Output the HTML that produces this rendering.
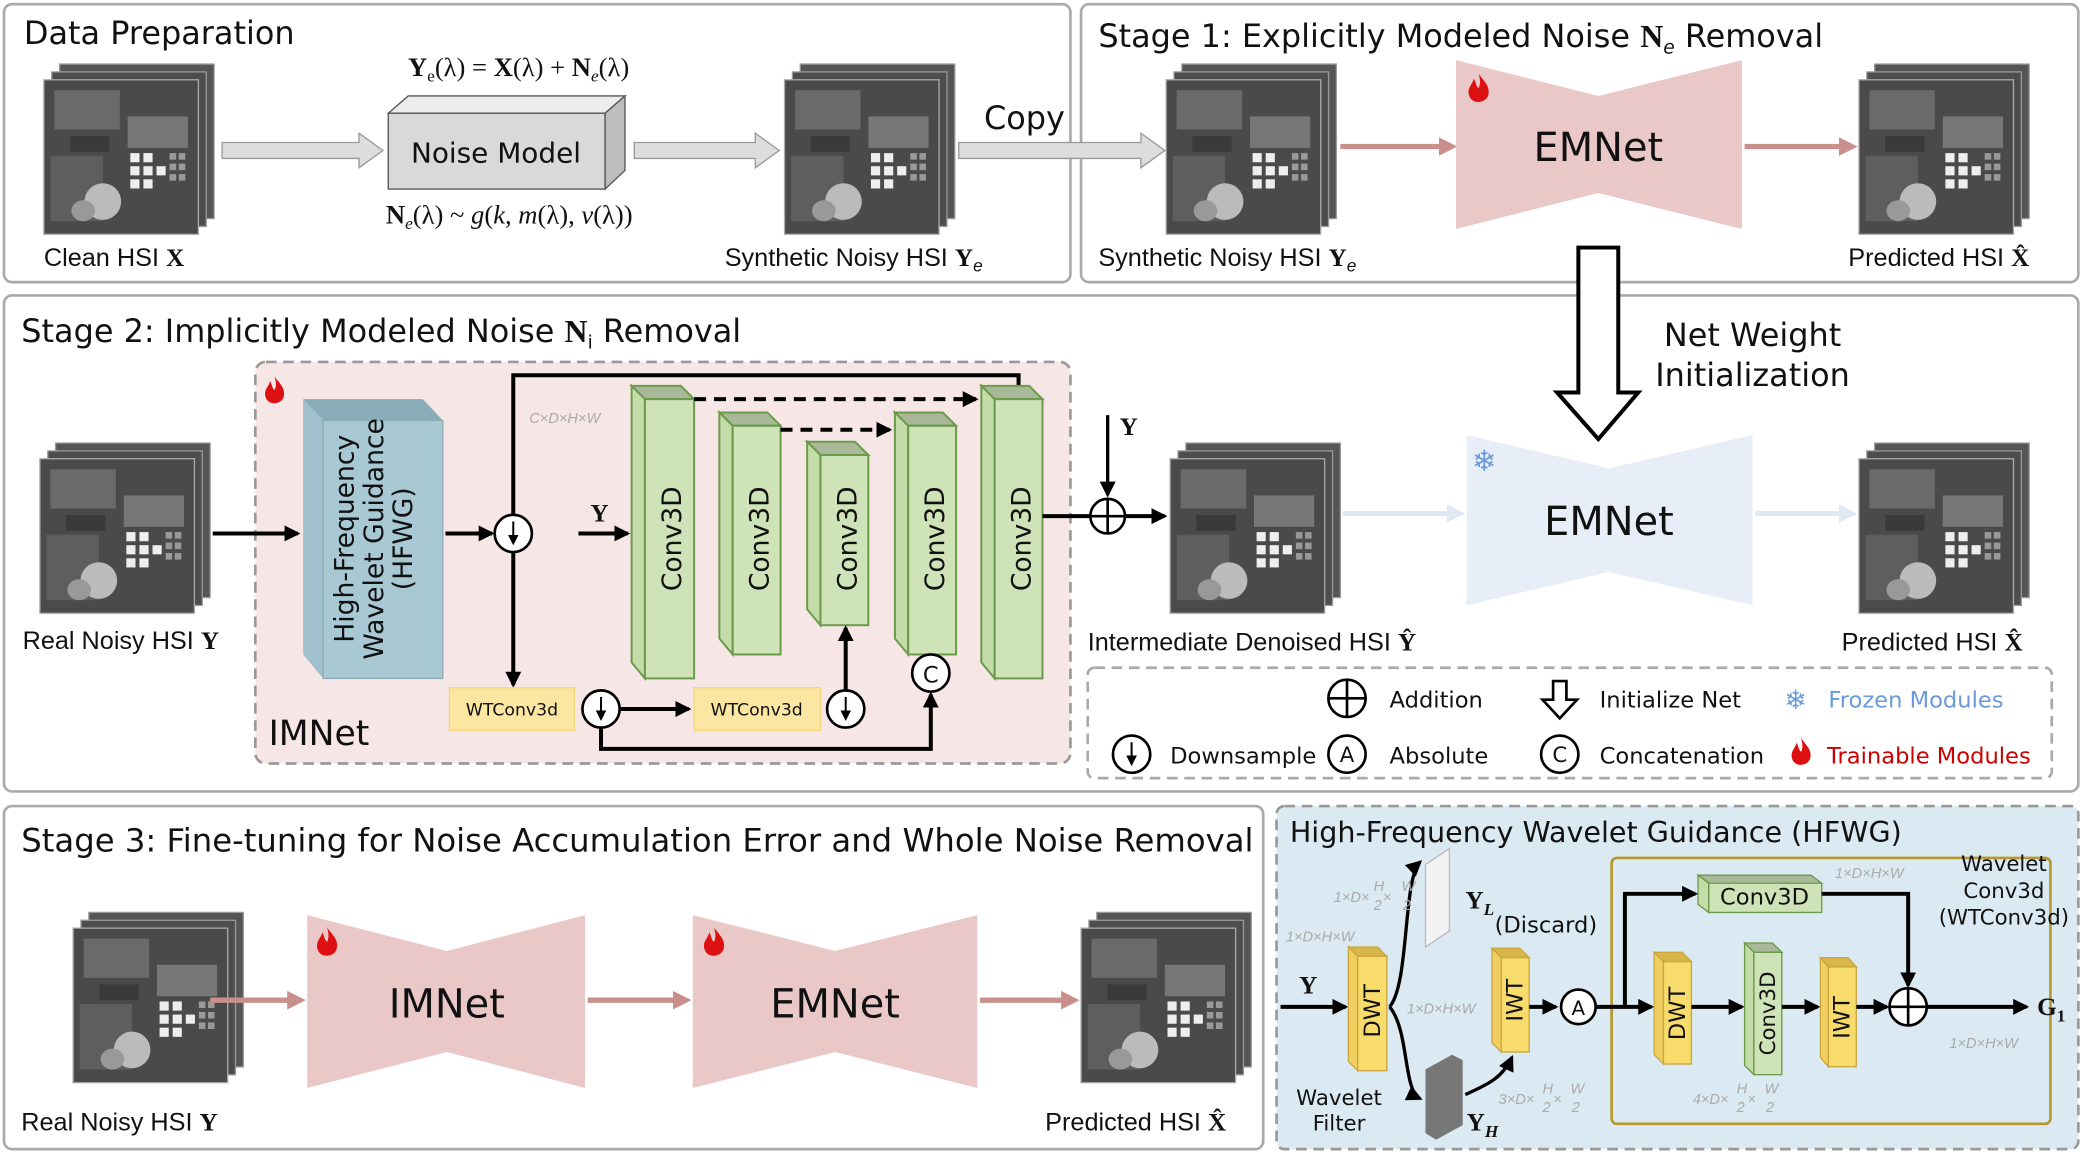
<!DOCTYPE html>
<html><head><meta charset="utf-8"><style>
html,body{margin:0;padding:0;background:#fff;width:2085px;height:1156px;overflow:hidden}
svg{display:block}
text{font-family:"DejaVu Sans","Liberation Sans",sans-serif;fill:#111}
.s{font-family:"Liberation Serif",serif;font-weight:bold}
.l{font-family:"Liberation Sans",sans-serif}
.g{fill:#aaa;font-style:italic;font-size:11px;font-family:"Liberation Sans",sans-serif}
</style></head><body>
<svg width="2085" height="1156" viewBox="0 0 1568 869" xmlns="http://www.w3.org/2000/svg">
<defs>
<symbol id="img" viewBox="0 0 132 132" overflow="visible">
<rect x="12" y="0" width="118" height="118" fill="#555" stroke="#999"/>
<rect x="6" y="6" width="118" height="118" fill="#4d4d4d" stroke="#999"/>
<rect x="0" y="12" width="118" height="118" fill="#4a4a4a" stroke="#aaa"/>
<rect x="8" y="20" width="50" height="30" fill="#6a6a6a"/>
<rect x="64" y="40" width="46" height="24" fill="#777"/>
<rect x="5" y="70" width="40" height="50" fill="#5e5e5e"/>
<rect x="20" y="55" width="30" height="12" fill="#3a3a3a"/>
<g fill="#eee"><rect x="66" y="68" width="7" height="7"/><rect x="76" y="68" width="7" height="7"/><rect x="66" y="78" width="7" height="7"/><rect x="76" y="78" width="7" height="7"/><rect x="66" y="88" width="7" height="7"/><rect x="76" y="88" width="7" height="7"/><rect x="86" y="78" width="7" height="7"/></g>
<g fill="#999"><rect x="96" y="68" width="5" height="5"/><rect x="103" y="68" width="5" height="5"/><rect x="96" y="76" width="5" height="5"/><rect x="103" y="76" width="5" height="5"/><rect x="96" y="84" width="5" height="5"/><rect x="103" y="84" width="5" height="5"/></g>
<ellipse cx="45" cy="105" rx="14" ry="14" fill="#bbb"/>
<ellipse cx="30" cy="112" rx="9" ry="8" fill="#999"/>
</symbol>
<symbol id="flame" viewBox="0 0 20 26" overflow="visible">
<path d="M10 0 C14 6 20 10 18 18 C16 25 4 26 2 18 C0 12 5 9 6 4 C8 8 8 11 10 12 C12 8 11 4 10 0Z" fill="#d11"/>
</symbol>
<marker id="ah" markerWidth="8" markerHeight="8" refX="6" refY="4" orient="auto" markerUnits="userSpaceOnUse"><path d="M0 0 L8 4 L0 8Z" fill="#000"/></marker>
<marker id="ap" markerWidth="14" markerHeight="14" refX="10" refY="7" orient="auto" markerUnits="userSpaceOnUse"><path d="M0 0 L14 7 L0 14Z" fill="#c9908b"/></marker>
<marker id="al" markerWidth="14" markerHeight="14" refX="10" refY="7" orient="auto" markerUnits="userSpaceOnUse"><path d="M0 0 L14 7 L0 14Z" fill="#dfe8f3"/></marker>
<marker id="ab" markerWidth="12" markerHeight="12" refX="10" refY="6" orient="auto" markerUnits="userSpaceOnUse"><path d="M0 0 L12 6 L0 12Z" fill="#000"/></marker>
</defs>

<!-- Data preparation -->
<rect x="3" y="3" width="802" height="209" rx="6" fill="#fff" stroke="#aaa" stroke-width="2"/>
<text x="18" y="33" font-size="24">Data Preparation</text>
<use href="#img" x="33" y="48" width="130" height="130"/>
<text x="33" y="200" font-size="19" class="l">Clean HSI <tspan class="s">X</tspan></text>
<polygon points="167,107 270,107 270,100 288,113 270,126 270,119 167,119" fill="#ddd" stroke="#999"/>
<polygon points="292,85 307,72 470,72 455,85" fill="#ececec" stroke="#555"/>
<polygon points="455,85 470,72 470,128 455,142" fill="#bdbdbd" stroke="#555"/>
<rect x="292" y="85" width="163" height="57" fill="#d9d9d9" stroke="#555"/>
<text x="373" y="122" font-size="21" text-anchor="middle">Noise Model</text>
<text x="390" y="57" font-size="20" text-anchor="middle" style="font-family:'Liberation Serif',serif"><tspan font-weight="bold">Y</tspan><tspan font-size="13" dy="4">e</tspan><tspan dy="-4">(λ) = </tspan><tspan font-weight="bold">X</tspan>(λ) + <tspan font-weight="bold">N</tspan><tspan font-size="13" dy="4" font-style="italic">e</tspan><tspan dy="-4">(λ)</tspan></text>
<text x="383" y="168" font-size="20" text-anchor="middle" style="font-family:'Liberation Serif',serif"><tspan font-weight="bold">N</tspan><tspan font-size="13" dy="4" font-style="italic">e</tspan><tspan dy="-4">(λ) ~ </tspan><tspan font-style="italic">g</tspan>(<tspan font-style="italic">k</tspan>, <tspan font-style="italic">m</tspan>(λ), <tspan font-style="italic">v</tspan>(λ))</text>
<polygon points="477,107 568,107 568,100 586,113 568,126 568,119 477,119" fill="#ddd" stroke="#999"/>
<use href="#img" x="590" y="48" width="130" height="130"/>
<text x="545" y="200" font-size="19" class="l">Synthetic Noisy HSI <tspan class="s">Y</tspan><tspan font-size="13" dy="4" font-style="italic">e</tspan></text>
<text x="740" y="97" font-size="24">Copy</text>

<!-- Stage 1 -->
<rect x="813" y="3" width="750" height="209" rx="6" fill="#fff" stroke="#aaa" stroke-width="2"/>
<polygon points="721,107 858,107 858,100 876,113 858,126 858,119 721,119" fill="#ddd" stroke="#999"/>
<text x="826" y="35" font-size="24">Stage 1: Explicitly Modeled Noise <tspan class="s">N</tspan><tspan font-size="14" dy="5" font-style="italic">e</tspan><tspan dy="-5"> Removal</tspan></text>
<use href="#img" x="877" y="48" width="130" height="130"/>
<text x="826" y="200" font-size="19" class="l">Synthetic Noisy HSI <tspan class="s">Y</tspan><tspan font-size="13" dy="4" font-style="italic">e</tspan></text>
<line x1="1008" y1="110" x2="1092" y2="110" stroke="#c9908b" stroke-width="4" marker-end="url(#ap)"/>
<polygon points="1095,45 1202,72 1310,45 1310,172 1202,145 1095,172" fill="#ebc8c8"/>
<text x="1202" y="121" font-size="30" text-anchor="middle">EMNet</text>
<use href="#flame" x="1103" y="55" width="18" height="24"/>
<line x1="1312" y1="110" x2="1393" y2="110" stroke="#c9908b" stroke-width="4" marker-end="url(#ap)"/>
<use href="#img" x="1398" y="48" width="130" height="130"/>
<text x="1390" y="200" font-size="19" class="l">Predicted HSI <tspan class="s">X̂</tspan></text>

<!-- Stage 2 -->
<rect x="3" y="222" width="1560" height="373" rx="6" fill="#fff" stroke="#aaa" stroke-width="2"/>
<polygon points="1187,186 1217,186 1217,295 1232,295 1202,330 1171,295 1187,295" fill="#fff" stroke="#000" stroke-width="3"/>
<text x="1318" y="260" font-size="24" text-anchor="middle">Net Weight</text>
<text x="1318" y="290" font-size="24" text-anchor="middle">Initialization</text>
<text x="16" y="257" font-size="24">Stage 2: Implicitly Modeled Noise <tspan class="s">N</tspan><tspan font-size="14" dy="5">i</tspan><tspan dy="-5"> Removal</tspan></text>
<rect x="192" y="272" width="613" height="302" rx="8" fill="#f7e6e6" stroke="#999" stroke-width="2" stroke-dasharray="8,5"/>
<use href="#flame" x="198" y="282" width="17" height="24"/>
<use href="#img" x="30" y="333" width="130" height="130"/>
<text x="17" y="488" font-size="19" class="l">Real Noisy HSI <tspan class="s">Y</tspan></text>
<line x1="160" y1="401" x2="224" y2="401" stroke="#000" stroke-width="3" marker-end="url(#ab)"/>
<polygon points="228,300 318,300 333,316 243,316" fill="#88adb9"/>
<polygon points="228,300 243,316 243,510 228,492" fill="#9fc0cc"/>
<rect x="243" y="316" width="90" height="194" fill="#a8c8d4" stroke="#8aaab5"/>
<g transform="translate(288,405) rotate(-90)"><text x="0" y="-22" font-size="20" text-anchor="middle">High-Frequency</text><text x="0" y="0" font-size="20" text-anchor="middle">Wavelet Guidance</text><text x="0" y="22" font-size="20" text-anchor="middle">(HFWG)</text></g>
<line x1="335" y1="401" x2="370" y2="401" stroke="#000" stroke-width="3" marker-end="url(#ab)"/>
<circle cx="386" cy="401" r="14" fill="#fff" stroke="#000" stroke-width="2"/>
<line x1="386" y1="392" x2="386" y2="408" stroke="#000" stroke-width="1.5" marker-end="url(#ah)"/>
<polyline points="386,387 386,282 766,282 766,300" fill="none" stroke="#000" stroke-width="3" marker-end="url(#ab)"/>
<line x1="386" y1="415" x2="386" y2="515" stroke="#000" stroke-width="3" marker-end="url(#ab)"/>
<text x="398" y="318" class="g" font-size="12">C×D×H×W</text>
<text x="444" y="392" font-size="19" class="s">Y</text>
<line x1="435" y1="401" x2="472" y2="401" stroke="#000" stroke-width="3" marker-end="url(#ab)"/>
<g stroke="#6a9a4a" stroke-width="1.5">
<polygon points="475,290 512,290 522,300 485,300" fill="#a8b898"/><polygon points="475,290 485,300 485,510 475,498" fill="#c4dcaa"/><rect x="485" y="300" width="37" height="210" fill="#cfe3b8"/>
<polygon points="541,310 577,310 587,320 551,320" fill="#a8b898"/><polygon points="541,310 551,320 551,492 541,480" fill="#c4dcaa"/><rect x="551" y="320" width="36" height="172" fill="#cfe3b8"/>
<polygon points="607,332 643,332 653,342 617,342" fill="#a8b898"/><polygon points="607,332 617,342 617,470 607,458" fill="#c4dcaa"/><rect x="617" y="342" width="36" height="128" fill="#cfe3b8"/>
<polygon points="673,310 709,310 719,320 683,320" fill="#a8b898"/><polygon points="673,310 683,320 683,492 673,480" fill="#c4dcaa"/><rect x="683" y="320" width="36" height="172" fill="#cfe3b8"/>
<polygon points="738,290 774,290 784,300 748,300" fill="#a8b898"/><polygon points="738,290 748,300 748,510 738,498" fill="#c4dcaa"/><rect x="748" y="300" width="36" height="210" fill="#cfe3b8"/>
</g>
<g font-size="20"><text transform="translate(512,405) rotate(-90)" text-anchor="middle">Conv3D</text><text transform="translate(578,405) rotate(-90)" text-anchor="middle">Conv3D</text><text transform="translate(644,405) rotate(-90)" text-anchor="middle">Conv3D</text><text transform="translate(710,405) rotate(-90)" text-anchor="middle">Conv3D</text><text transform="translate(775,405) rotate(-90)" text-anchor="middle">Conv3D</text></g>
<line x1="522" y1="300" x2="734" y2="300" stroke="#000" stroke-width="3" stroke-dasharray="9,6" marker-end="url(#ab)"/>
<line x1="587" y1="323" x2="669" y2="323" stroke="#000" stroke-width="3" stroke-dasharray="9,6" marker-end="url(#ab)"/>
<rect x="338" y="517" width="94" height="32" fill="#fbe7a1" stroke="#f3d77a"/>
<text x="385" y="538" font-size="13" text-anchor="middle">WTConv3d</text>
<rect x="522" y="517" width="95" height="32" fill="#fbe7a1" stroke="#f3d77a"/>
<text x="569" y="538" font-size="13" text-anchor="middle">WTConv3d</text>
<circle cx="452" cy="533" r="14" fill="#fff" stroke="#000" stroke-width="2"/>
<line x1="452" y1="524" x2="452" y2="540" stroke="#000" stroke-width="1.5" marker-end="url(#ah)"/>
<line x1="466" y1="533" x2="518" y2="533" stroke="#000" stroke-width="3" marker-end="url(#ab)"/>
<circle cx="636" cy="533" r="14" fill="#fff" stroke="#000" stroke-width="2"/>
<line x1="636" y1="524" x2="636" y2="540" stroke="#000" stroke-width="1.5" marker-end="url(#ah)"/>
<line x1="636" y1="519" x2="636" y2="472" stroke="#000" stroke-width="3" marker-end="url(#ab)"/>
<polyline points="452,547 452,563 700,563 700,522" fill="none" stroke="#000" stroke-width="3" marker-end="url(#ab)"/>
<circle cx="700" cy="506" r="14" fill="#fff" stroke="#000" stroke-width="2"/>
<text x="700" y="513" font-size="17" text-anchor="middle">C</text>
<text x="202" y="560" font-size="26">IMNet</text>
<line x1="784" y1="388" x2="820" y2="388" stroke="#000" stroke-width="3"/>
<circle cx="833" cy="388" r="13" fill="#fff" stroke="#000" stroke-width="2"/>
<line x1="820" y1="388" x2="846" y2="388" stroke="#000" stroke-width="2"/><line x1="833" y1="375" x2="833" y2="401" stroke="#000" stroke-width="2"/>
<line x1="833" y1="312" x2="833" y2="372" stroke="#000" stroke-width="2.5" marker-end="url(#ab)"/>
<text x="842" y="327" font-size="19" class="s">Y</text>
<line x1="846" y1="388" x2="876" y2="388" stroke="#000" stroke-width="3" marker-end="url(#ab)"/>
<use href="#img" x="880" y="333" width="130" height="130"/>
<text x="818" y="489" font-size="19" class="l">Intermediate Denoised HSI <tspan class="s">Ŷ</tspan></text>
<line x1="1010" y1="386" x2="1098" y2="386" stroke="#dfe8f3" stroke-width="4" marker-end="url(#al)"/>
<polygon points="1103,327 1210,352 1318,327 1318,455 1210,430 1103,455" fill="#e8eef8"/>
<text x="1210" y="402" font-size="30" text-anchor="middle">EMNet</text>
<text x="1107" y="354" font-size="22" style="fill:#6a9ad8">❄</text>
<line x1="1320" y1="386" x2="1393" y2="386" stroke="#dfe8f3" stroke-width="4" marker-end="url(#al)"/>
<use href="#img" x="1398" y="333" width="130" height="130"/>
<text x="1385" y="489" font-size="19" class="l">Predicted HSI <tspan class="s">X̂</tspan></text>
<rect x="818" y="502" width="725" height="83" rx="5" fill="#fff" stroke="#aaa" stroke-width="2" stroke-dasharray="8,5"/>
<g font-size="17">
<circle cx="1013" cy="525" r="14" fill="none" stroke="#000" stroke-width="2"/><line x1="999" y1="525" x2="1027" y2="525" stroke="#000" stroke-width="2"/><line x1="1013" y1="511" x2="1013" y2="539" stroke="#000" stroke-width="2"/>
<text x="1045" y="532">Addition</text>
<polygon points="1168,512 1178,512 1178,526 1186,526 1173,540 1160,526 1168,526" fill="#fff" stroke="#000" stroke-width="2"/>
<text x="1203" y="532">Initialize Net</text>
<text x="1342" y="533" font-size="20" style="fill:#6a9ad8">❄</text><text x="1375" y="532" style="fill:#6a9ad8">Frozen Modules</text>
<circle cx="851" cy="567" r="14" fill="none" stroke="#000" stroke-width="2"/><line x1="851" y1="558" x2="851" y2="574" stroke="#000" stroke-width="1.5" marker-end="url(#ah)"/>
<text x="880" y="574">Downsample</text>
<circle cx="1013" cy="567" r="14" fill="none" stroke="#000" stroke-width="2"/><text x="1013" y="573" text-anchor="middle" font-size="16">A</text>
<text x="1045" y="574">Absolute</text>
<circle cx="1173" cy="567" r="14" fill="none" stroke="#000" stroke-width="2"/><text x="1173" y="573" text-anchor="middle" font-size="16">C</text>
<text x="1203" y="574">Concatenation</text>
<use href="#flame" x="1346" y="554" width="17" height="24"/>
<text x="1374" y="574" style="fill:#c00">Trainable Modules</text>
</g>

<!-- Stage 3 -->
<rect x="3" y="606" width="947" height="258" rx="6" fill="#fff" stroke="#aaa" stroke-width="2"/>
<text x="16" y="640" font-size="24.3">Stage 3: Fine-tuning for Noise Accumulation Error and Whole Noise Removal</text>
<use href="#img" x="55" y="686" width="130" height="130"/>
<text x="16" y="850" font-size="19" class="l">Real Noisy HSI  <tspan class="s">Y</tspan></text>
<line x1="158" y1="752" x2="226" y2="752" stroke="#c9908b" stroke-width="4" marker-end="url(#ap)"/>
<polygon points="231,688 336,715 440,688 440,818 336,791 231,818" fill="#ebc8c8"/>
<text x="336" y="765" font-size="30" text-anchor="middle">IMNet</text>
<use href="#flame" x="237" y="697" width="18" height="24"/>
<line x1="442" y1="752" x2="516" y2="752" stroke="#c9908b" stroke-width="4" marker-end="url(#ap)"/>
<polygon points="521,688 628,715 735,688 735,818 628,791 521,818" fill="#ebc8c8"/>
<text x="628" y="765" font-size="30" text-anchor="middle">EMNet</text>
<use href="#flame" x="528" y="697" width="18" height="24"/>
<line x1="737" y1="752" x2="808" y2="752" stroke="#c9908b" stroke-width="4" marker-end="url(#ap)"/>
<use href="#img" x="813" y="686" width="130" height="130"/>
<text x="786" y="850" font-size="19" class="l">Predicted HSI <tspan class="s">X̂</tspan></text>

<!-- HFWG -->
<rect x="960" y="606" width="603" height="258" rx="6" fill="#dbeaf2" stroke="#999" stroke-width="2" stroke-dasharray="8,5"/>
<text x="970" y="633" font-size="21.5">High-Frequency Wavelet Guidance (HFWG)</text>
<text x="977" y="747" font-size="19" class="s">Y</text>
<line x1="963" y1="757" x2="1012" y2="757" stroke="#000" stroke-width="3" marker-end="url(#ab)"/>
<g stroke="#c9a640" stroke-width="1">
<polygon points="1014,712 1036,712 1043,719 1021,719" fill="#d9b64a"/><polygon points="1014,712 1021,719 1021,805 1014,798" fill="#f0cf5e"/><rect x="1021" y="719" width="22" height="86" fill="#f8dc6b"/>
<polygon points="1122,713 1143,713 1150,720 1129,720" fill="#d9b64a"/><polygon points="1122,713 1129,720 1129,791 1122,784" fill="#f0cf5e"/><rect x="1129" y="720" width="21" height="71" fill="#f8dc6b"/>
<polygon points="1244,716 1265,716 1272,723 1251,723" fill="#d9b64a"/><polygon points="1244,716 1251,723 1251,800 1244,793" fill="#f0cf5e"/><rect x="1251" y="723" width="21" height="77" fill="#f8dc6b"/>
<polygon points="1369,720 1390,720 1396,727 1375,727" fill="#d9b64a"/><polygon points="1369,720 1375,727 1375,802 1369,795" fill="#f0cf5e"/><rect x="1375" y="727" width="21" height="75" fill="#f8dc6b"/>
</g>
<g stroke="#6a9a4a" stroke-width="1">
<polygon points="1312,709 1333,709 1340,716 1319,716" fill="#a8b898"/><polygon points="1312,709 1319,716 1319,808 1312,801" fill="#c4dcaa"/><rect x="1319" y="716" width="21" height="92" fill="#cfe3b8"/>
<polygon points="1277,658 1362,658 1370,664 1285,664" fill="#a8b898"/><rect x="1285" y="664" width="85" height="22" fill="#cfe3b8"/><polygon points="1277,658 1285,664 1285,686 1277,680" fill="#c4dcaa"/>
</g>
<g font-size="17"><text transform="translate(1038,760) rotate(-90)" text-anchor="middle">DWT</text><text transform="translate(1145,752) rotate(-90)" text-anchor="middle">IWT</text><text transform="translate(1267,762) rotate(-90)" text-anchor="middle">DWT</text><text transform="translate(1335,762) rotate(-90)" text-anchor="middle" font-size="16">Conv3D</text><text transform="translate(1391,765) rotate(-90)" text-anchor="middle">IWT</text></g>
<text x="1327" y="680" font-size="17" text-anchor="middle">Conv3D</text>
<polygon points="1072,650 1090,638 1090,700 1072,712" fill="#f2f2f2" stroke="#bbb"/>
<polygon points="1072,804 1092,793 1100,797 1100,846 1080,857 1072,852" fill="#777"/>
<path d="M1045,757 C1060,740 1055,660 1068,648" fill="none" stroke="#000" stroke-width="2.5" marker-end="url(#ab)"/>
<path d="M1045,757 C1060,775 1055,820 1068,826" fill="none" stroke="#000" stroke-width="2.5" marker-end="url(#ab)"/>
<path d="M1102,823 C1120,815 1130,810 1137,795" fill="none" stroke="#000" stroke-width="2.5" marker-end="url(#ab)"/>
<text x="1102" y="683" font-size="19" class="s">Y<tspan font-size="13" dy="5" font-style="italic">L</tspan></text>
<text x="1124" y="701" font-size="17">(Discard)</text>
<text x="1103" y="850" font-size="19" class="s">Y<tspan font-size="13" dy="5" font-style="italic">H</tspan></text>
<text x="1003" y="678" class="g">1×D×</text><text x="1033" y="670" class="g" font-size="9">H</text><text x="1033" y="684" class="g" font-size="9">2</text><text x="1040" y="678" class="g">×</text><text x="1054" y="670" class="g" font-size="9">W</text><text x="1055" y="684" class="g" font-size="9">2</text>
<text x="967" y="708" class="g">1×D×H×W</text>
<text x="1058" y="762" class="g">1×D×H×W</text>
<text x="1127" y="830" class="g">3×D×</text><text x="1160" y="822" class="g" font-size="9">H</text><text x="1160" y="836" class="g" font-size="9">2</text><text x="1168" y="830" class="g">×</text><text x="1181" y="822" class="g" font-size="9">W</text><text x="1182" y="836" class="g" font-size="9">2</text>
<text x="1273" y="830" class="g">4×D×</text><text x="1306" y="822" class="g" font-size="9">H</text><text x="1306" y="836" class="g" font-size="9">2</text><text x="1314" y="830" class="g">×</text><text x="1327" y="822" class="g" font-size="9">W</text><text x="1328" y="836" class="g" font-size="9">2</text>
<text x="1380" y="660" class="g">1×D×H×W</text>
<text x="1466" y="788" class="g">1×D×H×W</text>
<text x="1007" y="831" font-size="16" text-anchor="middle">Wavelet</text>
<text x="1007" y="850" font-size="16" text-anchor="middle">Filter</text>
<line x1="1150" y1="757" x2="1170" y2="757" stroke="#000" stroke-width="3" marker-end="url(#ab)"/>
<circle cx="1187" cy="757" r="13" fill="#fff" stroke="#000" stroke-width="2"/>
<text x="1187" y="763" font-size="15" text-anchor="middle">A</text>
<rect x="1212" y="645" width="330" height="200" rx="4" fill="none" stroke="#b8972e" stroke-width="2"/>
<line x1="1200" y1="757" x2="1242" y2="757" stroke="#000" stroke-width="3" marker-end="url(#ab)"/>
<polyline points="1222,757 1222,672 1275,672" fill="none" stroke="#000" stroke-width="3" marker-end="url(#ab)"/>
<polyline points="1370,672 1435,672 1435,741" fill="none" stroke="#000" stroke-width="3" marker-end="url(#ab)"/>
<line x1="1272" y1="757" x2="1310" y2="757" stroke="#000" stroke-width="3" marker-end="url(#ab)"/>
<line x1="1340" y1="757" x2="1367" y2="757" stroke="#000" stroke-width="3" marker-end="url(#ab)"/>
<line x1="1396" y1="757" x2="1419" y2="757" stroke="#000" stroke-width="3" marker-end="url(#ab)"/>
<circle cx="1435" cy="757" r="14" fill="#fff" stroke="#000" stroke-width="2"/>
<line x1="1421" y1="757" x2="1449" y2="757" stroke="#000" stroke-width="2"/><line x1="1435" y1="743" x2="1435" y2="771" stroke="#000" stroke-width="2"/>
<line x1="1449" y1="757" x2="1524" y2="757" stroke="#000" stroke-width="3" marker-end="url(#ab)"/>
<text x="1532" y="763" font-size="19" class="s">G<tspan font-size="13" dy="5">1</tspan></text>
<text x="1507" y="655" font-size="16" text-anchor="middle">Wavelet</text>
<text x="1507" y="675" font-size="16" text-anchor="middle">Conv3d</text>
<text x="1507" y="695" font-size="16" text-anchor="middle">(WTConv3d)</text>
</svg>
</body></html>
